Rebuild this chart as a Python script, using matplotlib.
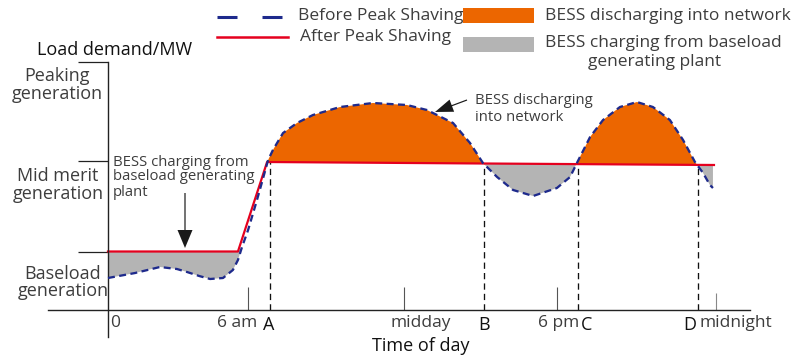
import numpy as np
import matplotlib.pyplot as plt
from matplotlib.lines import Line2D
from matplotlib.patches import Rectangle

plt.rcParams['font.family'] = ['Open Sans', 'DejaVu Sans']
plt.rcParams['lines.scale_dashes'] = False

# load curve before peak shaving (time along the axis in hours, load in MW)
before_t = [0.0, 1.07, 2.05, 2.72, 3.12, 3.6, 4.03, 4.54, 4.93, 5.13, 5.29,
            5.53, 5.88, 6.08, 6.32, 6.51, 6.91, 7.46, 8.09, 9.16, 10.46,
            11.80, 12.59, 13.62, 14.29, 14.80, 15.36, 15.99, 16.78, 17.72,
            18.24, 18.51, 19.03, 19.54, 20.21, 20.88, 21.51, 22.18, 22.70,
            23.17, 23.49, 23.76, 23.88]
before_mw = [16, 18.5, 21.5, 20.5, 19, 17, 15.5, 16, 20, 25, 31.5,
             40, 55, 64, 75, 80, 88.5, 93.5, 97.5, 101.5, 103.5,
             102.5, 100, 93.5, 83.5, 73.5, 66.5, 60, 57, 61,
             66.5, 73.5, 86.5, 95, 101.5, 104, 101.5, 95, 85,
             74, 68.5, 62.5, 61]

# load curve after peak shaving
after_t = [0.0, 5.13, 6.28, 14.84, 23.92]
after_mw = [29.25, 29.25, 74.0, 73.25, 72.5]

# generation bands on the load axis
level_mw = [29.25, 74.5, 124.0]
band_labels = ['Baseload\ngeneration', 'Mid merit\ngeneration', 'Peaking\ngeneration']

# clock ticks and battery switching points
clock_t = [0.0, 5.53, 11.68, 17.73, 24.0]
clock_labels = ['0', '6 am', 'midday', '6 pm', 'midnight']
event_t = [6.38, 14.84, 18.54, 23.28]
event_labels = ['A', 'B', 'C', 'D']

ORANGE = '#EC6600'
GREY = '#B4B4B4'
BLUE = '#1E2A8C'
RED = '#E5001E'
TEXT = '#3d3d3d'

W, H = 795, 358
PX_PER_H = 25.333
PX_PER_MW = 2.0

fig = plt.figure(figsize=(W / 100, H / 100), dpi=100)
ax = fig.add_axes([48 / W, 21 / H, 702 / W, 275 / H])
ax.set_xlim(-60 / PX_PER_H, 642 / PX_PER_H)
ax.set_ylim(-27 / PX_PER_MW, 248 / PX_PER_MW)
ax.patch.set_visible(False)

for side in ['top', 'right']:
    ax.spines[side].set_visible(False)
for side in ['left', 'bottom']:
    ax.spines[side].set_position(('data', 0))
    ax.spines[side].set_color('#222222')
    ax.spines[side].set_linewidth(1.0)

ax.set_xticks(clock_t[1:4])
ax.set_xticks(clock_t[4:], minor=True)
ax.tick_params(axis='x', which='major', direction='in', length=16.5,
               width=0.8, color='#555555', labelbottom=False)
ax.tick_params(axis='x', which='minor', direction='in', length=12.2,
               width=0.8, color='#888888', labelbottom=False)
ax.set_yticks(level_mw)
ax.tick_params(axis='y', direction='out', length=21.6, width=0.9,
               color='#222222', labelleft=False)

t = np.array(before_t)
before = np.array(before_mw)
after_on_t = np.interp(t, after_t, after_mw)
ramp = (t > 5.2) & (t < 6.3)

# BESS discharging (orange) / charging (grey)
ax.fill_between(t, before, after_on_t, where=before > after_on_t,
                interpolate=True, color=ORANGE, lw=0, zorder=1)
ax.fill_between(t, before, after_on_t, where=(before < after_on_t) & ~ramp,
                interpolate=True, color=GREY, lw=0, zorder=1)

# switching points
event_top = np.interp(event_t, after_t, after_mw)
for x, top in zip(event_t, event_top):
    ax.plot([x, x], [0, top], color='#111111', lw=0.95,
            dashes=(4.5, 3), zorder=1.5)

ax.plot(after_t, after_mw, color=RED, lw=1.6, zorder=2)
ax.plot(before_t, before_mw, color=BLUE, lw=1.65, dashes=(5, 3.2), zorder=3)

# tick labels under the time axis
for x, lab, dx in zip(clock_t, clock_labels, [5, -8, 12, 1, 14]):
    ax.annotate(lab, xy=(x, 0), xytext=(dx, -9.5), textcoords='offset points',
                ha='center', va='center', fontsize=12.5, color=TEXT)
for x, lab, dx in zip(event_t, event_labels, [-1, 0, 6.5, -5.5]):
    ax.annotate(lab, xy=(x, 0), xytext=(dx, -11), textcoords='offset points',
                ha='center', va='center', fontsize=13, color='#111111')

# band labels left of the load axis
for y, lab, x_px, y_px in zip(level_mw, band_labels, [63, 58, 57], [-31, -24, -23]):
    ax.annotate(lab, xy=(0, y), xytext=(x_px - 108, y_px),
                textcoords='offset pixels', ha='center', va='center',
                fontsize=13, color=TEXT, linespacing=0.95)

# overlay in pixel units for titles, legend and notes
ov = fig.add_axes([0, 0, 1, 1])
ov.set_xlim(0, W)
ov.set_ylim(H, 0)
ov.axis('off')

ov.text(115, 50, 'Load demand/MW', ha='center', va='center', fontsize=13,
        color='#111111', fontweight='medium')
ov.text(421, 346, 'Time of day', ha='center', va='center', fontsize=13,
        color='#111111', fontweight='medium')

ov.add_line(Line2D([217, 288], [17, 17], color=BLUE, lw=2.2, dashes=(14.4, 18)))
ov.add_line(Line2D([217, 288], [37, 37], color=RED, lw=1.8))
ov.text(298, 16, 'Before Peak Shaving', ha='left', va='center', fontsize=12.5, color=TEXT)
ov.text(300, 37, 'After Peak Shaving', ha='left', va='center', fontsize=12.5, color=TEXT)
ov.add_patch(Rectangle((463, 8), 71, 15, color=ORANGE, lw=0))
ov.add_patch(Rectangle((463, 37), 71, 15, color=GREY, lw=0))
ov.text(545, 16, 'BESS discharging into network', ha='left', va='center',
        fontsize=12.5, color=TEXT)
ov.text(545, 43, 'BESS charging from baseload', ha='left', va='center',
        fontsize=12.5, color=TEXT)
ov.text(655, 62, 'generating plant', ha='center', va='center',
        fontsize=12.5, color=TEXT)

ov.text(113, 177, 'BESS charging from\nbaseload generating\nplant', ha='left',
        va='center', fontsize=10.7, color=TEXT, linespacing=1.0)
ov.arrow(185, 193, 0, 55, width=1.2, head_width=15, head_length=18,
         length_includes_head=True, color='#1a1a1a', lw=0)

ov.text(475, 109, 'BESS discharging\ninto network', ha='left', va='center',
        fontsize=10.7, color=TEXT, linespacing=1.15)
ov.arrow(467, 100, -32, 12, width=1.2, head_width=13, head_length=18,
         length_includes_head=True, color='#1a1a1a', lw=0)

fig.savefig('out.png', dpi=100)
